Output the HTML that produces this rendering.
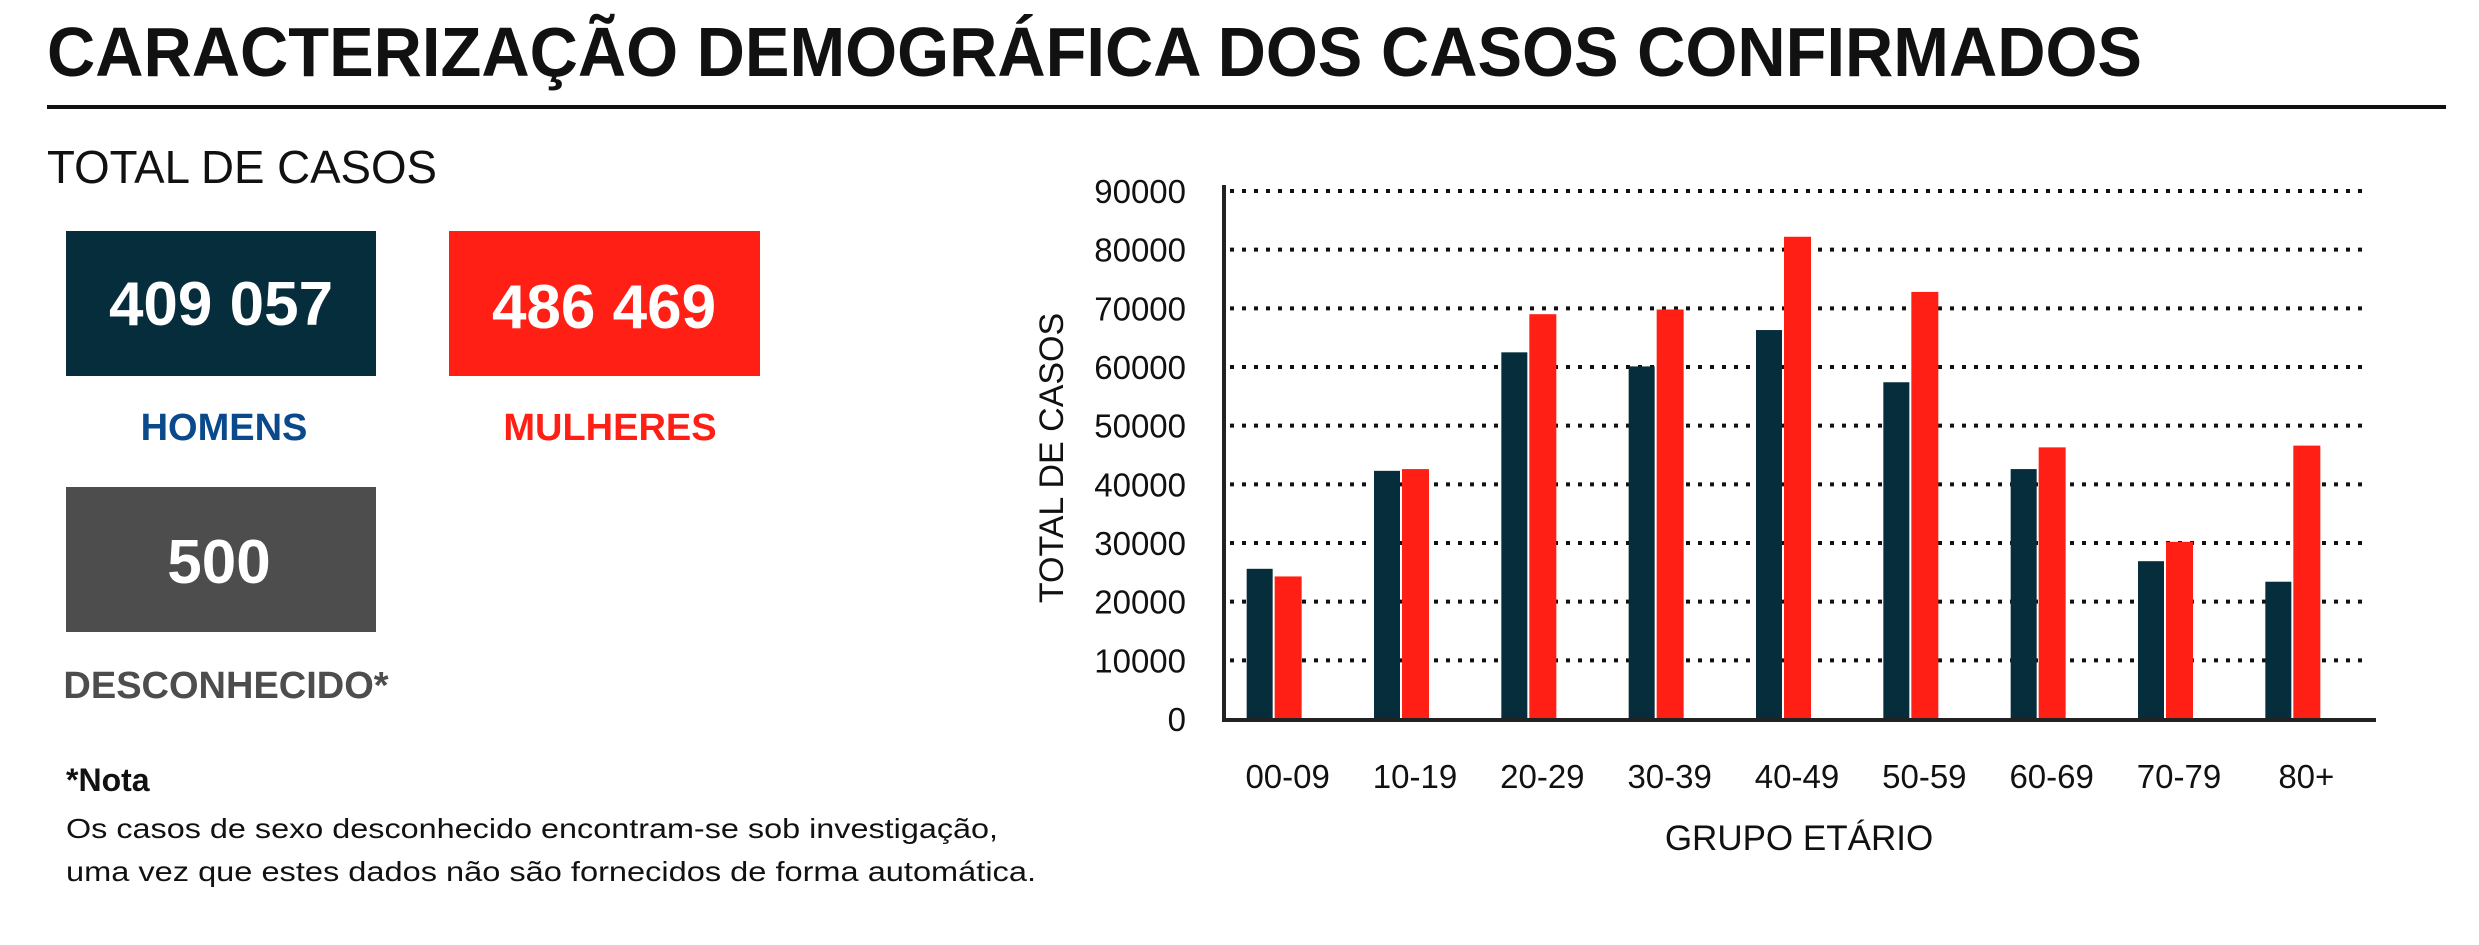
<!DOCTYPE html>
<html><head><meta charset="utf-8"><style>
html,body{margin:0;padding:0;background:#fff;}
svg{display:block;font-family:"Liberation Sans",sans-serif;}
</style></head><body>
<svg id="root" width="2479" height="945" viewBox="0 0 2479 945" xmlns="http://www.w3.org/2000/svg">
<text x="47" y="76" font-size="70" font-weight="bold" fill="#111" textLength="2095" lengthAdjust="spacingAndGlyphs">CARACTERIZAÇÃO DEMOGRÁFICA DOS CASOS CONFIRMADOS</text>
<rect x="47" y="105" width="2399" height="4" fill="#111"/>
<text x="47" y="183" font-size="46" fill="#111" textLength="390" lengthAdjust="spacingAndGlyphs">TOTAL DE CASOS</text>
<g>
<rect x="66" y="231" width="310" height="145" fill="#062d3c"/>
<text x="221" y="325" font-size="62" font-weight="bold" fill="#fff" text-anchor="middle">409 057</text>
<text x="224" y="440" font-size="38" font-weight="bold" fill="#0a4a8c" text-anchor="middle">HOMENS</text>
</g>
<g>
<rect x="449" y="231" width="311" height="145" fill="#ff1f14"/>
<text x="604" y="328" font-size="62" font-weight="bold" fill="#fff" text-anchor="middle">486 469</text>
<text x="610" y="440" font-size="38" font-weight="bold" fill="#ff1f14" text-anchor="middle">MULHERES</text>
</g>
<g>
<rect x="66" y="487" width="310" height="145" fill="#4d4d4d"/>
<text x="219" y="583" font-size="62" font-weight="bold" fill="#fff" text-anchor="middle">500</text>
<text x="226" y="698" font-size="38" font-weight="bold" fill="#4d4d4d" text-anchor="middle">DESCONHECIDO*</text>
</g>
<text x="66" y="791" font-size="32" font-weight="bold" fill="#111">*Nota</text>
<text x="66" y="838" font-size="28" fill="#111" textLength="932" lengthAdjust="spacingAndGlyphs">Os casos de sexo desconhecido encontram-se sob investigação,</text>
<text x="66" y="881" font-size="28" fill="#111" textLength="970" lengthAdjust="spacingAndGlyphs">uma vez que estes dados não são fornecidos de forma automática.</text>
<g id="chart"></g>
</svg>
<script>
const categories=["00-09","10-19","20-29","30-39","40-49","50-59","60-69","70-79","80+"];
const menValues=[25600,42300,62500,60100,66300,57400,42600,26900,23400];
const womenValues=[24300,42600,69000,69800,82200,72800,46300,30200,46600];
const yTicks=[0,10000,20000,30000,40000,50000,60000,70000,80000,90000];
const NS="http://www.w3.org/2000/svg";
const g=document.getElementById('chart');
const X0=1224,X1=2370,Y0=719,Y1=191,YMAX=90000;
const step=(X1-X0)/categories.length;
function y(v){return Y0-(v/YMAX)*(Y0-Y1);}
function xc(i){return X0+step*(i+0.5);}
function mk(tag,attrs,parent){const e=document.createElementNS(NS,tag);for(const k in attrs)e.setAttribute(k,attrs[k]);(parent||g).appendChild(e);return e;}
yTicks.forEach(t=>{
  if(t>0){const l=mk('line',{x1:X0+6,x2:2367,y1:y(t),y2:y(t),stroke:'#111','stroke-width':4,'stroke-dasharray':'4 8'});
  
  }
  const tx=mk('text',{x:1186,y:y(t)+12,'font-size':33,'text-anchor':'end',fill:'#111'});
  tx.textContent=t;
  
  
});
categories.forEach((c,i)=>{
  const cx=xc(i);
  const bm=mk('rect',{x:cx-41,y:y(menValues[i]),width:26,height:Y0-y(menValues[i]),fill:'#062d3c'});
  
  
  const bw=mk('rect',{x:cx-13,y:y(womenValues[i]),width:27,height:Y0-y(womenValues[i]),fill:'#ff1f14'});
  
  
  const t=mk('text',{x:cx,y:788,'font-size':33,'text-anchor':'middle',fill:'#111'});
  t.textContent=c;
  
  
});
const ya=mk('line',{x1:X0,x2:X0,y1:185,y2:721,stroke:'#222','stroke-width':4});


const xa=mk('line',{x1:X0-2,x2:2376,y1:Y0+1,y2:Y0+1,stroke:'#222','stroke-width':4});


const yt=mk('text',{x:0,y:0,'font-size':34,'text-anchor':'middle',fill:'#111',transform:'translate(1063,458) rotate(-90)'});
yt.textContent='TOTAL DE CASOS';


const xt=mk('text',{x:1799,y:850,'font-size':35,'text-anchor':'middle',fill:'#111'});
xt.textContent='GRUPO ETÁRIO';


</script>
</body></html>
